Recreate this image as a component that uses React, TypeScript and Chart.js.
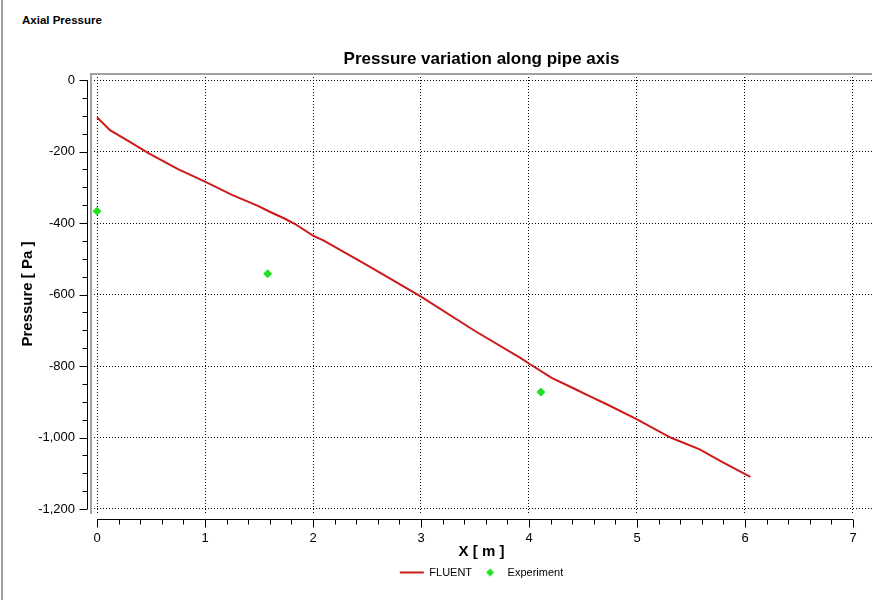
import { useEffect, useRef } from 'react';
import { Chart, registerables } from 'chart.js';

Chart.register(...registerables);

// FLUENT solution along the pipe axis
const FLUENT_X = [0, 0.12, 0.3, 0.48, 0.75, 1.0, 1.25, 1.49, 1.59, 1.74, 1.83, 2.0, 2.1, 2.5, 3.0, 3.5, 3.92, 4.01, 4.21, 4.43, 4.56, 4.72, 5.0, 5.31, 5.58, 5.8, 6.05];
const FLUENT_Y = [-104, -140, -172, -205, -249, -284, -321, -352, -367, -388, -402, -435, -449, -518, -606, -702, -777, -795, -833, -865, -884, -907, -949, -1000, -1033, -1070, -1110];

// measured points
const EXP_X = [0, 1.58, 4.11];
const EXP_Y = [-367, -542, -873];

const X_TICKS = [0, 1, 2, 3, 4, 5, 6, 7];
const Y_TICKS = [-1200, -1000, -800, -600, -400, -200, 0];
const X_MINOR_STEP = 0.2;
const Y_MINOR_STEP = 50;

const FONT = "'Liberation Sans', Arial, sans-serif";
const RED = '#cc1a1a';
const GREEN = '#22e022';

// diamond glyph for the legend (natural size, not stretched by pointStyleWidth)
const makeDiamond = () => {
  const c = document.createElement('canvas');
  c.width = 10;
  c.height = 10;
  const g = c.getContext('2d');
  if (g) {
    g.fillStyle = GREEN;
    g.beginPath();
    g.moveTo(5, 1);
    g.lineTo(9, 5);
    g.lineTo(5, 9);
    g.lineTo(1, 5);
    g.closePath();
    g.fill();
  }
  return c;
};

// frame (top + left) and the detached axes with major/minor ticks
const offsetAxes = {
  id: 'offsetAxes',
  afterDraw(chart: any) {
    const { ctx, chartArea: a } = chart;
    const x = chart.scales.x;
    const y = chart.scales.y;
    ctx.save();

    ctx.strokeStyle = '#a0a0a0';
    ctx.lineWidth = 2;
    ctx.beginPath();
    ctx.moveTo(a.left, a.bottom);
    ctx.lineTo(a.left, a.top);
    ctx.lineTo(a.right, a.top);
    ctx.stroke();

    ctx.strokeStyle = '#000';
    ctx.lineWidth = 1;
    ctx.beginPath();

    const ax = Math.round(a.left - 4) + 0.5;
    const yTop = y.getPixelForValue(Y_TICKS[Y_TICKS.length - 1]);
    const yBot = y.getPixelForValue(Y_TICKS[0]);
    ctx.moveTo(ax, yTop);
    ctx.lineTo(ax, yBot);
    for (let v = Y_TICKS[0]; v <= Y_TICKS[Y_TICKS.length - 1]; v += Y_MINOR_STEP) {
      const py = Math.round(y.getPixelForValue(v)) + 0.5;
      const len = v % 200 === 0 ? 8 : 5;
      ctx.moveTo(ax - len, py);
      ctx.lineTo(ax, py);
    }

    const ay = Math.round(a.bottom + 5) + 0.5;
    const xL = x.getPixelForValue(X_TICKS[0]);
    const xR = x.getPixelForValue(X_TICKS[X_TICKS.length - 1]);
    ctx.moveTo(xL, ay);
    ctx.lineTo(xR, ay);
    const n = Math.round((X_TICKS[X_TICKS.length - 1] - X_TICKS[0]) / X_MINOR_STEP);
    for (let i = 0; i <= n; i++) {
      const v = X_TICKS[0] + i * X_MINOR_STEP;
      const px = Math.round(x.getPixelForValue(v)) + 0.5;
      const len = i % 5 === 0 ? 8 : 5;
      ctx.moveTo(px, ay);
      ctx.lineTo(px, ay + len);
    }
    ctx.stroke();
    ctx.restore();
  },
};

const App = () => {
  const canvasRef = useRef<HTMLCanvasElement | null>(null);
  const chartRef = useRef<Chart | null>(null);

  useEffect(() => {
    if (!canvasRef.current) return;
    const ctx = canvasRef.current.getContext('2d');
    if (!ctx) return;

    if (chartRef.current) {
      chartRef.current.destroy();
    }

    const diamond = makeDiamond();

    chartRef.current = new Chart(ctx, {
      type: 'scatter',
      data: {
        datasets: [
          {
            label: 'FLUENT',
            data: FLUENT_X.map((v, i) => ({ x: v, y: FLUENT_Y[i] })),
            showLine: true,
            borderColor: RED,
            backgroundColor: RED,
            borderWidth: 2,
            pointRadius: 0,
            pointStyle: 'line',
            tension: 0,
          },
          {
            label: 'Experiment',
            data: EXP_X.map((v, i) => ({ x: v, y: EXP_Y[i] })),
            showLine: false,
            borderColor: GREEN,
            backgroundColor: GREEN,
            pointStyle: 'rectRot',
            pointRadius: 4,
            borderWidth: 1,
          },
        ],
      },
      options: {
        responsive: false,
        animation: false,
        layout: { padding: { left: 0, right: 9, top: 0, bottom: 12 } },
        plugins: {
          title: {
            display: true,
            text: 'Pressure variation along pipe axis',
            fullSize: false,
            color: '#000',
            font: { family: FONT, size: 17, weight: 'bold', lineHeight: 1.2 },
            padding: { top: 48.8, bottom: 4.8 },
          },
          legend: {
            position: 'bottom',
            fullSize: false,
            labels: {
              usePointStyle: true,
              pointStyleWidth: 24,
              padding: 6,
              color: '#000',
              font: { family: FONT, size: 11 },
              generateLabels: (chart: any) => {
                const items = Chart.defaults.plugins.legend.labels.generateLabels(chart);
                if (items[1]) items[1].pointStyle = diamond;
                return items;
              },
            },
          },
          tooltip: { enabled: false },
        },
        scales: {
          x: {
            type: 'linear',
            min: -0.0556,
            max: 7.176,
            afterBuildTicks: (scale: any) => {
              scale.ticks = X_TICKS.map((v) => ({ value: v }));
            },
            afterFit: (scale: any) => {
              scale.height = 47;
            },
            grid: { color: '#000', lineWidth: 1, drawTicks: false },
            border: { display: false, dash: [1, 2] },
            ticks: {
              padding: 18,
              color: '#000',
              font: { family: FONT, size: 13, lineHeight: 1 },
              maxRotation: 0,
            },
            title: {
              display: true,
              text: 'X [ m ]',
              color: '#000',
              font: { family: FONT, size: 15, weight: 'bold', lineHeight: 1.2 },
              padding: { top: 0, bottom: 0 },
            },
          },
          y: {
            type: 'linear',
            min: -1214,
            max: 17,
            afterBuildTicks: (scale: any) => {
              scale.ticks = Y_TICKS.map((v) => ({ value: v }));
            },
            afterFit: (scale: any) => {
              scale.width = 91;
            },
            grid: { color: '#000', lineWidth: 1, drawTicks: false },
            border: { display: false, dash: [1, 2] },
            ticks: {
              padding: 16,
              color: '#000',
              font: { family: FONT, size: 13 },
              callback: (v: any) => Number(v).toLocaleString('en-US'),
            },
            title: {
              display: true,
              text: 'Pressure [ Pa ]',
              color: '#000',
              font: { family: FONT, size: 15, weight: 'bold', lineHeight: 1.2 },
              padding: { top: 19, bottom: 0 },
            },
          },
        },
      },
      plugins: [offsetAxes],
    });

    return () => {
      chartRef.current?.destroy();
      chartRef.current = null;
    };
  }, []);

  return (
    <div style={{ position: 'fixed', left: 0, top: 0, width: 881, height: 600, background: '#fff', fontFamily: FONT }}>
      <div style={{ position: 'absolute', left: 1, top: 0, width: 2, height: 600, background: '#a0a0a0' }} />
      <div style={{ position: 'absolute', left: 22, top: 13, fontSize: 11.5, lineHeight: '14px', fontWeight: 'bold', color: '#000' }}>
        Axial Pressure
      </div>
      <canvas ref={canvasRef} width={881} height={600} style={{ position: 'absolute', left: 0, top: 0 }} />
    </div>
  );
};

export default App;
